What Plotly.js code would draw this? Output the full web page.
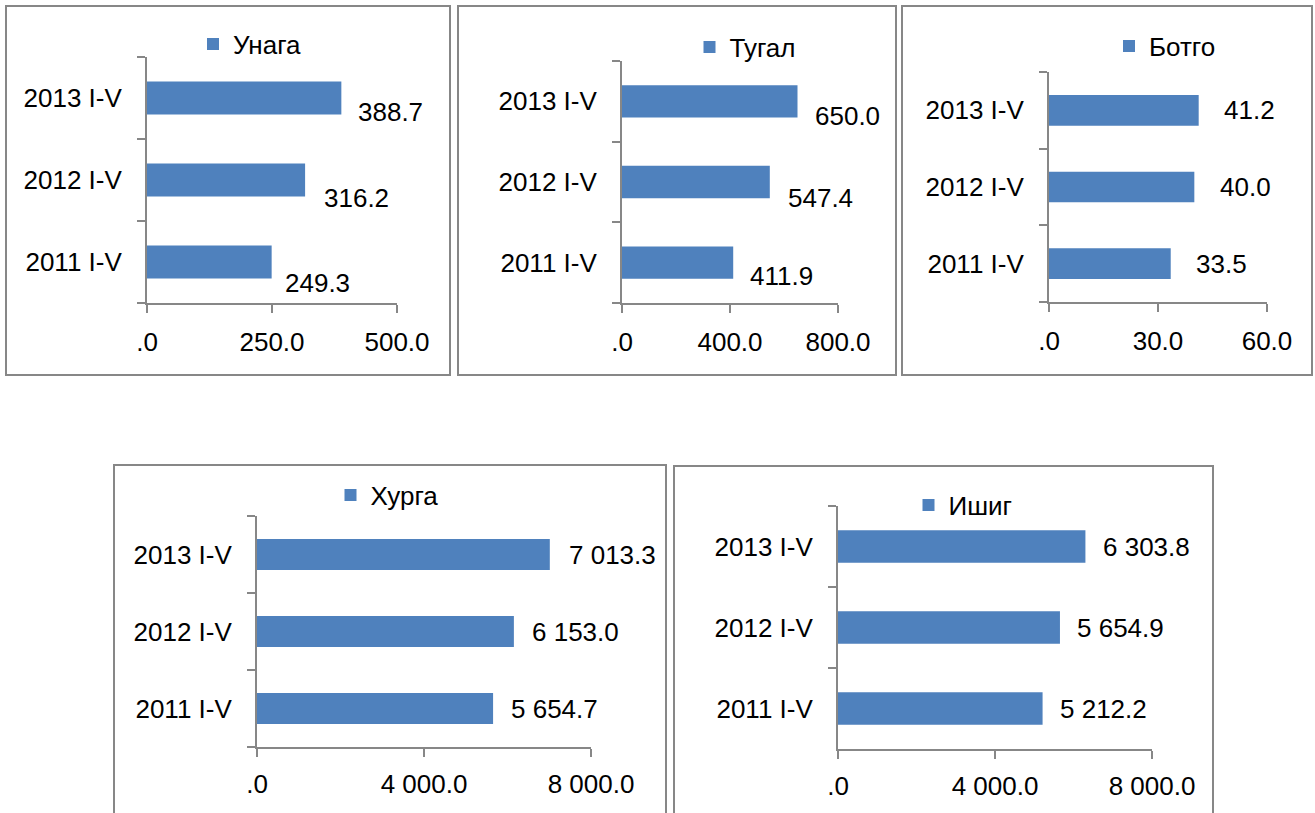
<!DOCTYPE html>
<html>
<head>
<meta charset="utf-8">
<script src="https://cdn.plot.ly/plotly-3.0.1.min.js"></script>
<style>html,body{margin:0;padding:0;background:#fff;}#chart{width:1315px;height:813px;}</style>
</head>
<body>
<div id="chart"></div>
<script>
// ---- data ----
const categories = ['2011 I-V', '2012 I-V', '2013 I-V'];
const seriesNames = ['Унага', 'Тугал', 'Ботго', 'Хурга', 'Ишиг'];
const unagaValues = [249.3, 316.2, 388.7];
const tugalValues = [411.9, 547.4, 650.0];
const botgoValues = [33.5, 40.0, 41.2];
const khurgaValues = [5654.7, 6153.0, 7013.3];
const ishigValues = [5212.2, 5654.9, 6303.8];
const unagaTicks = [0, 250, 500];
const unagaTickText = ['.0', '250.0', '500.0'];
const tugalTicks = [0, 400, 800];
const tugalTickText = ['.0', '400.0', '800.0'];
const botgoTicks = [0, 30, 60];
const botgoTickText = ['.0', '30.0', '60.0'];
const khurgaTicks = [0, 4000, 8000];
const khurgaTickText = ['.0', '4 000.0', '8 000.0'];
const ishigTicks = [0, 4000, 8000];
const ishigTickText = ['.0', '4 000.0', '8 000.0'];

// ---- layout helpers (pixel -> paper) ----
const W = 1315, H = 813;
const px = x => x / W;
const py = y => 1 - y / H;
const GRAY = '#878787';
const BLUE = '#4f81bd';
const FONT = 'Liberation Sans, Arial, sans-serif';
const FS = 26;

function fmt(v) {
  const s = v.toFixed(1).split('.');
  return s[0].replace(/\B(?=(\d{3})+(?!\d))/g, ' ') + '.' + s[1];
}

const panels = [
  {name: seriesNames[0], values: unagaValues, ticks: unagaTicks, tickText: unagaTickText,
   xd: [147, 397], yd: [57, 303], box: [6, 6, 450, 375], leg: [250, 44], xsd: 7,
   dx: [11, 17, 15], dy: [-21, -18, -14]},
  {name: seriesNames[1], values: tugalValues, ticks: tugalTicks, tickText: tugalTickText,
   xd: [622, 838], yd: [61, 303], box: [458, 6, 896, 375], leg: [745, 47], xsd: 7,
   dx: [15, 16, 15], dy: [-13, -16, -15]},
  {name: seriesNames[2], values: botgoValues, ticks: botgoTicks, tickText: botgoTickText,
   xd: [1049, 1267], yd: [72, 302], box: [902, 6, 1312, 375], leg: [1165, 46], xsd: 7,
   dx: [23, 24, 23], dy: [0, 0, 0]},
  {name: seriesNames[3], values: khurgaValues, ticks: khurgaTicks, tickText: khurgaTickText,
   xd: [257, 591], yd: [516, 747], box: [114, 465, 666, 830], leg: [387, 495], xsd: 5,
   dx: [16, 16, 17], dy: [0, 0, 0]},
  {name: seriesNames[4], values: ishigValues, ticks: ishigTicks, tickText: ishigTickText,
   xd: [838, 1152], yd: [506, 749], box: [674, 466, 1213, 830], leg: [963, 505], xsd: 5,
   dx: [15, 15, 16], dy: [0, 0, 0]}
];

const data = [];
const layout = {
  width: W, height: H,
  margin: {l: 0, r: 0, t: 0, b: 0, pad: 0},
  paper_bgcolor: '#fff', plot_bgcolor: 'rgba(0,0,0,0)',
  font: {family: FONT, size: FS, color: '#000'},
  bargap: 0.6,
  shapes: [], annotations: []
};

panels.forEach((p, i) => {
  const n = i === 0 ? '' : String(i + 1);
  const xa = 'x' + n, ya = 'y' + n;
  const legName = 'legend' + n;
  data.push({
    type: 'bar', orientation: 'h',
    x: p.values, y: categories,
    xaxis: xa, yaxis: ya,
    name: p.name, legend: legName, showlegend: true,
    marker: {color: BLUE, line: {width: 0}},
    hoverinfo: 'x+y'
  });
  layout['xaxis' + n] = {
    domain: [px(p.xd[0]), px(p.xd[1])], anchor: ya,
    range: [0, p.ticks[p.ticks.length - 1]],
    tickmode: 'array', tickvals: p.ticks, ticktext: p.tickText,
    ticks: 'outside', ticklen: 8, tickwidth: 2, tickcolor: GRAY,
    showline: true, linecolor: GRAY, linewidth: 2,
    showgrid: false, zeroline: false, fixedrange: true,
    ticklabelstandoff: p.xsd,
    tickfont: {family: FONT, size: FS, color: '#000'}
  };
  layout['yaxis' + n] = {
    domain: [py(p.yd[1]), py(p.yd[0])], anchor: xa,
    type: 'category', categoryorder: 'array', categoryarray: categories,
    range: [-0.5, 2.5], tickson: 'boundaries',
    ticks: 'outside', ticklen: 8, tickwidth: 2, tickcolor: GRAY,
    showline: true, linecolor: GRAY, linewidth: 2,
    showgrid: false, zeroline: false, fixedrange: true,
    ticklabelstandoff: 18,
    tickfont: {family: FONT, size: FS, color: '#000'}
  };
  layout[legName] = {
    x: px(p.leg[0]), y: py(p.leg[1]), xanchor: 'center', yanchor: 'middle',
    xref: 'paper', yref: 'paper',
    bgcolor: 'rgba(0,0,0,0)', borderwidth: 0,
    font: {family: FONT, size: FS, color: '#000'},
    itemwidth: 30
  };
  layout.shapes.push({
    type: 'rect', xref: 'paper', yref: 'paper',
    x0: px(p.box[0]), x1: px(p.box[2]), y0: py(p.box[3]), y1: py(p.box[1]),
    line: {color: GRAY, width: 2}, fillcolor: 'rgba(0,0,0,0)', layer: 'below'
  });
  p.values.forEach((v, k) => {
    layout.annotations.push({
      xref: xa, yref: ya, x: v, y: categories[k],
      text: fmt(v), showarrow: false, xanchor: 'left', yanchor: 'middle',
      xshift: p.dx[k], yshift: p.dy[k],
      font: {family: FONT, size: FS, color: '#000'}
    });
  });
});

Plotly.newPlot('chart', data, layout, {displayModeBar: false, staticPlot: true});
</script>
</body>
</html>
